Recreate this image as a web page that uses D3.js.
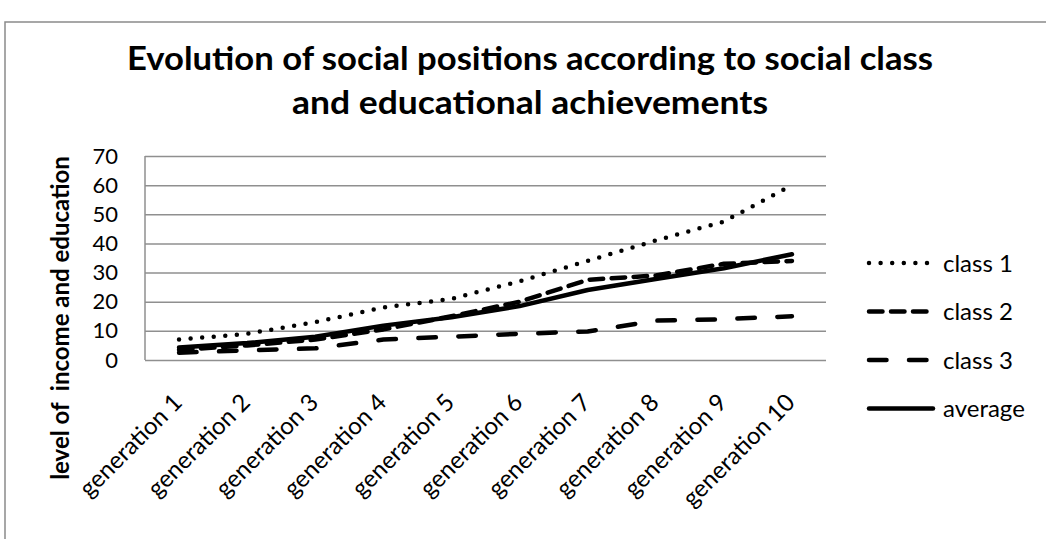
<!doctype html>
<html>
<head>
  <meta charset="utf-8">
  <script src="https://d3js.org/d3.v7.min.js"></script>
  <style>
    body {margin: 0; background: #fff;}
    text {font-family: Lato, "Open Sans", sans-serif; fill: #000;}
    .grid line {stroke: #8f8f8f; stroke-width: 1.5;}
    .grid .domain {display: none;}
  </style>
</head>
<body>
  <svg id="chart" width="1046" height="539"></svg>
  <script>
    const categories = ["generation 1", "generation 2", "generation 3", "generation 4", "generation 5",
                        "generation 6", "generation 7", "generation 8", "generation 9", "generation 10"];
    const class1  = [7, 9, 13, 18, 21, 27, 34, 41, 47.5, 60];
    const class2  = [3.5, 5, 7, 10.5, 15, 20, 27.5, 29, 33, 34];
    const class3  = [2.5, 3.3, 4, 7, 8, 9, 9.8, 13.5, 14, 15];
    const average = [4.3, 5.8, 8, 11.8, 14.7, 18.5, 24, 27.8, 31.5, 36.3];
    const yTicks  = [0, 10, 20, 30, 40, 50, 60, 70];

    // line styles, Excel-ish
    const series = [
      {name: "class 1", values: class1,  dash: "0 11.6"},
      {name: "class 2", values: class2,  dash: "13.5 8.5"},
      {name: "class 3", values: class3,  dash: "17.5 22.5"},
      {name: "average", values: average, dash: null}
    ];

    const svg = d3.select("#chart");
    const plotL = 145, plotR = 826, plotT = 156, plotB = 360;

    // chart frame
    svg.append("rect")
      .attr("x", 5).attr("y", 22).attr("width", 1200).attr("height", 700)
      .attr("fill", "none").attr("stroke", "#8a8a8a").attr("stroke-width", 1.5);

    // title
    const titleLines = ["Evolution of social positions according to social class",
                        "and educational achievements"];
    const titleWidths = [806, 476];
    svg.append("g").selectAll("text")
      .data(titleLines)
      .join("text")
      .attr("x", 530)
      .attr("y", (d, i) => 70 + i * 44)
      .attr("text-anchor", "middle")
      .attr("font-size", 33)
      .attr("font-weight", "bold")
      .attr("textLength", (d, i) => titleWidths[i])
      .attr("lengthAdjust", "spacingAndGlyphs")
      .text(d => d);

    const x = d3.scalePoint().domain(categories).range([plotL, plotR]).padding(0.5);
    const y = d3.scaleLinear().domain([0, 70]).range([plotB, plotT]);

    // gridlines + y labels
    const gy = svg.append("g")
      .attr("class", "grid")
      .attr("transform", `translate(${plotL},0)`)
      .call(d3.axisLeft(y).tickValues(yTicks).tickSize(-(plotR - plotL)).tickPadding(27));
    gy.selectAll("text").attr("font-size", 22);

    // left edge of plot
    svg.append("line")
      .attr("x1", plotL).attr("x2", plotL).attr("y1", plotT).attr("y2", plotB)
      .attr("stroke", "#8f8f8f").attr("stroke-width", 1.5);

    // x labels, rotated
    const gx = svg.append("g")
      .attr("transform", `translate(0,${plotB})`)
      .call(d3.axisBottom(x).tickSize(0));
    gx.select(".domain").remove();
    gx.selectAll("text")
      .attr("font-size", 24)
      .attr("x", 0).attr("y", 0).attr("dy", 0)
      .attr("text-anchor", "end")
      .attr("transform", "translate(4,44) rotate(-45)");

    // y axis title
    svg.append("text")
      .attr("transform", "translate(69,318) rotate(-90)")
      .attr("text-anchor", "middle")
      .attr("font-size", 24)
      .attr("font-weight", "bold")
      .style("white-space", "pre")
      .text("level of  income and education");

    // lines
    const line = d3.line()
      .x((d, i) => x(categories[i]))
      .y(d => y(d));

    svg.append("g").selectAll("path")
      .data(series)
      .join("path")
      .attr("d", d => line(d.values))
      .attr("fill", "none")
      .attr("stroke", "#000")
      .attr("stroke-width", 4.5)
      .attr("stroke-linecap", "round")
      .attr("stroke-linejoin", "round")
      .attr("stroke-dasharray", d => d.dash);

    // legend
    const lg = svg.append("g").selectAll("g")
      .data(series)
      .join("g")
      .attr("transform", (d, i) => `translate(0,${263 + i * 48.5})`);
    lg.append("line")
      .attr("x1", 869).attr("x2", 933)
      .attr("stroke", "#000")
      .attr("stroke-width", 4.5)
      .attr("stroke-linecap", "round")
      .attr("stroke-dasharray", d => d.dash);
    lg.append("text")
      .attr("x", 943)
      .attr("dy", "0.36em")
      .attr("font-size", 24)
      .text(d => d.name);
  </script>
</body>
</html>
